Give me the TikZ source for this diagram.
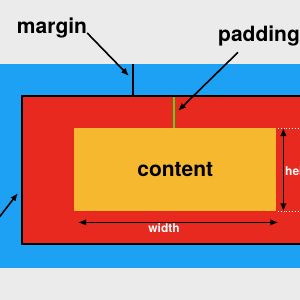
\documentclass[tikz,border=0pt]{standalone}
\usepackage{fontspec}
\setmainfont{TeX Gyre Heros}
\usetikzlibrary{arrows.meta}
\definecolor{fond}{HTML}{EBEBEB}
\definecolor{bleu}{HTML}{1CA1F4}
\definecolor{rouge}{HTML}{E8291F}
\definecolor{jaune}{HTML}{F5B82E}
\definecolor{vert}{HTML}{5CD11E}
\tikzset{
	pointe/.tip={Latex[length=8pt,width=6.5pt]},
	fleche/.style={line width=1.6pt,-pointe},
	cote/.style={line width=1.6pt,pointe-pointe},
	gros/.style={font=\bfseries\fontsize{21}{21}\selectfont,inner sep=0pt},
	petit/.style={font=\bfseries\fontsize{12}{12}\selectfont,text=white,inner sep=0pt}
}
\begin{document}
\begin{tikzpicture}[x=1pt,y=-1pt]
		\useasboundingbox (0,0) rectangle (300,300);
		\clip (0,0) rectangle (300,300);
		%Fond et marge
		\fill[fond] (0,0) rectangle (300,300);
		\fill[bleu] (0,64) rectangle (300,268);
		%Bordure
		\draw[line width=2pt,fill=rouge] (22,96) rectangle (310,244);
		%Contenu
		\node[gros,fill=jaune,minimum width=202pt,minimum height=83pt,anchor=north west] (content) at (74,128) {content};
		\draw[vert,line width=1.2pt] (174,97) -- (content.north -| 174,0);
		\draw[line width=1.3pt] (133,64) -- (133,95);

		% Etiquettes
		\node[gros] (margin) at (52,28) {margin};
		\node[gros,anchor=west] (padding) at (218,36) {padding};
		\coordinate (mtip) at (129,76);
		\coordinate (ptip) at (178,111);
		\coordinate (btip) at (18,193);
		\coordinate (bstart) at (-6,224);
		\draw[fleche] ([yshift=-5pt]margin.east) -- (mtip);
		\draw[fleche] ([xshift=20pt,yshift=-6pt]padding.south west) -- (ptip);
		\draw[fleche] (bstart) -- (btip);

		% Cotes
		\draw[cote] ([xshift=4pt,yshift=-11pt]content.south west) -- ([xshift=2pt,yshift=-11pt]content.south east);
		\node[petit,anchor=north] (width) at (164,223) {width};
		\draw[cote] ([xshift=7pt]content.north east) -- ([xshift=7pt]content.south east);
		\node[petit,anchor=west] (height) at (285,172) {height};
		\foreach \y in {128,211}{
			\draw[white,line width=0.8pt,dotted] (278,\y) -- (300,\y);
			}
		\end{tikzpicture}
\end{document}
